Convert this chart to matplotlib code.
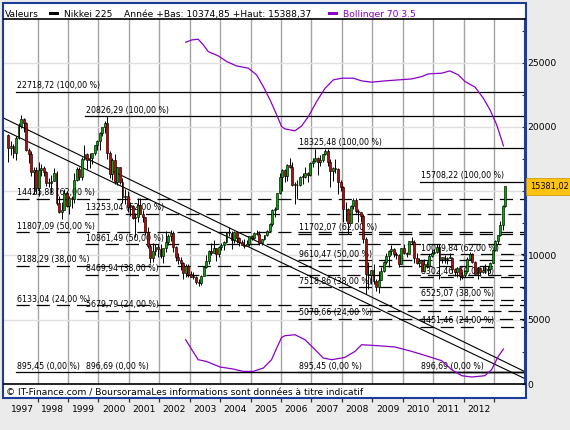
import numpy as np
import pandas as pd
import matplotlib
matplotlib.use("Agg")
import matplotlib.pyplot as plt
from matplotlib.patches import Rectangle

plt.rcParams['font.family'] = ['DejaVu Sans']
plt.rcParams['lines.scale_dashes'] = False

# Nikkei 225, bougies mensuelles Jan 1997 .. Mai 2013
opens = [
    19361, 18330, 18557, 18003, 19151, 20069, 20605, 20331, 18229, 17888, 16459, 16631,  # 1997
    15259, 16628, 16832, 16527, 15641, 15671, 15830, 16379, 14108, 13406, 13565, 14883,  # 1998
    13842, 14499, 14367, 15837, 16701, 16112, 17530, 17862, 17437, 17605, 17942, 18558,  # 1999
    18934, 19540, 19960, 20337, 17974, 16332, 17411, 15727, 16861, 15747, 14540, 14649,  # 2000
    13786, 13843, 12884, 12999, 13934, 13262, 12969, 11861, 10713, 9775, 10366, 10697,   # 2001
    10543, 9998, 10588, 11025, 11493, 11764, 10622, 9877, 9619, 9383, 8640, 9216,        # 2002
    8579, 8340, 8363, 7973, 7831, 8425, 9083, 9563, 10344, 10219, 10560, 10101,          # 2003
    10677, 10784, 11042, 11715, 11762, 11236, 11858, 11326, 11082, 10824, 10771, 10899,  # 2004
    11489, 11388, 11741, 11669, 11009, 11277, 11584, 11900, 12414, 13574, 13607, 14872,  # 2005
    16111, 16650, 16205, 17060, 16907, 15467, 15505, 15457, 16141, 16128, 16399, 16274,  # 2006
    17226, 17383, 17604, 17288, 17400, 17876, 18138, 17249, 16569, 16786, 16738, 15681,  # 2007
    15308, 13592, 13604, 12526, 13850, 14339, 13481, 13377, 13073, 11260, 8577, 8512,    # 2008
    8860, 7994, 7568, 8110, 8828, 9523, 9958, 10357, 10493, 10133, 10035, 9346,          # 2009
    10546, 10198, 10126, 11090, 11057, 9769, 9383, 9537, 8824, 9369, 9202, 9937,         # 2010
    10229, 10238, 10624, 9755, 9850, 9694, 9816, 9833, 8955, 8700, 8988, 8435,           # 2011
    8455, 8803, 9723, 10084, 9521, 8543, 9007, 8695, 8840, 8870, 8928, 9446,             # 2012
    10395, 11139, 11559, 12398, 13861,                                                   # 2013
]
highs = [
    19450, 18900, 18700, 19300, 20300, 20910, 20700, 20350, 18400, 18100, 16900, 16900,
    17300, 17100, 17000, 16600, 16000, 16300, 16800, 16600, 14600, 14200, 15200, 15000,
    14600, 14600, 16400, 16900, 16900, 17700, 18600, 18000, 18000, 18000, 18600, 19000,
    19600, 20000, 20500, 20833, 18100, 17600, 17900, 16900, 16900, 16000, 15200, 15000,
    14200, 13900, 13300, 14500, 14500, 13500, 13000, 12200, 10900, 11000, 10900, 10900,
    10900, 10600, 11900, 11700, 12000, 11900, 10700, 10200, 9900, 9500, 9300, 9300,
    8800, 8700, 8400, 8200, 8500, 9200, 10000, 10400, 11000, 11200, 10600, 10700,
    11000, 11100, 11800, 12200, 11900, 11900, 11900, 11400, 11200, 11300, 11200, 11500,
    11600, 11800, 12000, 11900, 11300, 11600, 11950, 12500, 13600, 13800, 14900, 16400,
    16700, 16700, 17100, 17600, 17300, 15700, 15900, 16200, 16400, 16900, 16500, 17300,
    17600, 18300, 17700, 17800, 17900, 18300, 18300, 17500, 16900, 17500, 16800, 15900,
    15400, 14200, 13700, 13900, 14500, 14500, 13600, 13400, 13200, 11400, 9500, 8900,
    9300, 8200, 8800, 9100, 9600, 10200, 10400, 10800, 10600, 10300, 10100, 10600,
    10900, 10300, 11100, 11400, 11200, 10200, 9800, 9600, 9700, 9600, 10100, 10400,
    10500, 10900, 10900, 9900, 10000, 9900, 10200, 9900, 9000, 9100, 9000, 8700,
    8900, 9900, 10300, 10200, 9600, 9100, 9100, 9200, 9300, 9200, 9500, 10400,
    11200, 11600, 12700, 13900, 15388,
]
lows = [
    17300, 17800, 17600, 17400, 19100, 19900, 19600, 18100, 17200, 16200, 14800, 14800,
    14600, 16200, 16200, 15400, 15300, 14900, 15800, 13900, 13300, 12800, 13600, 13800,
    13200, 13700, 14100, 15800, 15900, 15900, 17400, 16700, 16800, 17100, 17800, 18200,
    18200, 19300, 19500, 17500, 16000, 15900, 15600, 15500, 15600, 14100, 14000, 13400,
    13100, 12800, 11400, 12600, 13200, 12600, 11600, 10600, 9380, 9500, 10000, 9900,
    9800, 9400, 10300, 10800, 11100, 10300, 9600, 9300, 8900, 8200, 8300, 8300,
    8300, 8200, 7800, 7600, 7700, 8400, 9000, 9300, 10000, 10200, 9600, 9900,
    10400, 10400, 11000, 11500, 10500, 11000, 11000, 10700, 10800, 10600, 10700, 10700,
    11200, 11300, 11600, 10800, 10800, 11200, 11500, 11800, 12300, 13000, 13600, 14800,
    15000, 15700, 15800, 16800, 15400, 14000, 14400, 15400, 15600, 16000, 15700, 16200,
    16900, 17300, 16300, 17000, 17300, 17800, 17000, 15300, 15800, 16400, 14800, 15000,
    12600, 12700, 11700, 12500, 13600, 13300, 12600, 12600, 11000, 6990, 7400, 7800,
    7800, 7200, 7050, 8100, 8700, 9300, 9100, 10000, 9900, 9700, 9100, 9300,
    10100, 9900, 10100, 10900, 9400, 9300, 9100, 8800, 8800, 9000, 9100, 9900,
    10100, 10200, 8200, 9400, 9400, 9300, 9800, 8600, 8400, 8300, 8100, 8200,
    8300, 8800, 9700, 9400, 8500, 8200, 8400, 8600, 8600, 8500, 8600, 9400,
    10375, 10900, 11500, 12000, 13800,
]
closes = [
    18330, 18557, 18003, 19151, 20069, 20605, 20331, 18229, 17888, 16459, 16631, 15259,
    16628, 16832, 16527, 15641, 15671, 15830, 16379, 14108, 13406, 13565, 14883, 13842,
    14499, 14367, 15837, 16701, 16112, 17530, 17862, 17437, 17605, 17942, 18558, 18934,
    19540, 19960, 20337, 17974, 16332, 17411, 15727, 16861, 15747, 14540, 14649, 13786,
    13843, 12884, 12999, 13934, 13262, 12969, 11861, 10713, 9775, 10366, 10697, 10543,
    9998, 10588, 11025, 11493, 11764, 10622, 9877, 9619, 9383, 8640, 9216, 8579,
    8340, 8363, 7973, 7831, 8425, 9083, 9563, 10344, 10219, 10560, 10101, 10677,
    10784, 11042, 11715, 11762, 11236, 11858, 11326, 11082, 10824, 10771, 10899, 11489,
    11388, 11741, 11669, 11009, 11277, 11584, 11900, 12414, 13574, 13607, 14872, 16111,
    16650, 16205, 17060, 16907, 15467, 15505, 15457, 16141, 16128, 16399, 16274, 17226,
    17383, 17604, 17288, 17400, 17876, 18138, 17249, 16569, 16786, 16738, 15681, 15308,
    13592, 13604, 12526, 13850, 14339, 13481, 13377, 13073, 11260, 8577, 8512, 8860,
    7994, 7568, 8110, 8828, 9523, 9958, 10357, 10493, 10133, 10035, 9346, 10546,
    10198, 10126, 11090, 11057, 9769, 9383, 9537, 8824, 9369, 9202, 9937, 10229,
    10238, 10624, 9755, 9850, 9694, 9816, 9833, 8955, 8700, 8988, 8435, 8455,
    8803, 9723, 10084, 9521, 8543, 9007, 8695, 8840, 8870, 8928, 9446, 10395,
    11139, 11559, 12398, 13861, 15381.02,
]

# Bollinger 70 3.5
upper_x = [2002.87, 2003.07, 2003.28, 2003.45, 2003.61, 2003.94, 2004.22, 2004.54, 2004.93,
           2005.20, 2005.42, 2005.64, 2005.86, 2006.02, 2006.13, 2006.46, 2006.68, 2006.90,
           2007.17, 2007.45, 2007.72, 2008.00, 2008.38, 2008.65, 2008.98, 2009.42, 2009.86,
           2010.30, 2010.62, 2010.84, 2011.28, 2011.55, 2011.83, 2012.05, 2012.38, 2012.65,
           2012.87, 2013.09, 2013.25, 2013.31]
upper_y = [26594, 26773, 26827, 26384, 25863, 25529, 25085, 24751, 24572,
           24051, 23141, 22107, 20941, 20031, 19852, 19697, 20085, 20809,
           21975, 23017, 23662, 23795, 23795, 23585, 23484, 23585, 23662,
           23740, 23919, 24129, 24183, 24362, 24051, 23530, 23095, 22239,
           21329, 20163, 18997, 18530]
lower_x = [2002.87, 2003.07, 2003.28, 2003.55, 2004.00, 2004.43, 2004.76, 2005.09, 2005.42,
           2005.69, 2005.86, 2006.02, 2006.13, 2006.46, 2006.79, 2007.12, 2007.39, 2007.67,
           2008.10, 2008.43, 2008.65, 2009.20, 2009.75, 2010.30, 2010.84, 2011.28, 2011.61,
           2011.94, 2012.27, 2012.70, 2012.92, 2013.14, 2013.31]
lower_y = [3445, 2667, 1890, 1757, 1322, 1166, 980, 980, 1244,
           1890, 2799, 3624, 3756, 3834, 3445, 2667, 2022, 1890,
           2068, 2535, 3056, 2978, 2877, 2535, 2146, 1812, 1112,
           645, 544, 645, 1112, 2146, 2722]

# droites de tendance
trend_x = [1996.87, 2014.02]
trend_upper = [20708, 956]
trend_lower = [19775, 412]

# retracements de Fibonacci
fib_start = [1997.29, 1999.56, 2006.56, 2010.57]
fib_levels = [
    [22718.72, 14425.88, 11807.09, 9188.29, 6133.04, 895.45],
    [20826.29, 13253.04, 10861.49, 8469.94, 5679.79, 896.69],
    [18325.48, 11702.07, 9610.47, 7518.86, 5078.66, 895.45],
    [15708.22, 10079.84, 8302.46, 6525.07, 4451.46, 896.69],
]
fib_pct = ["100,00", "62,00", "50,00", "38,00", "24,00", "0,00"]

years = list(range(1997, 2013))
grid_years = list(range(1998, 2014))
y_ticks = [0, 5000, 10000, 15000, 20000, 25000]
y_labels = ["0", "5000", "10000", "", "20000", "25000"]  # 15000 caché par le dernier cours

W, H = 570, 430
def fx(px):
    return px / W
def fy(py):
    return 1 - py / H

fig = plt.figure(figsize=(W / 100, H / 100), dpi=100)
fig.patch.set_facecolor('#ebebeb')
fig.patches.append(Rectangle((fx(3), fy(398)), 523 / W, 395 / H, transform=fig.transFigure,
                             facecolor='white', edgecolor='#1c3c9c', lw=1.5, zorder=-1))

ax = fig.add_axes([fx(4), fy(384), 521 / W, 365 / H])
ax.set_facecolor('none')
ax.set_xlim(1996.898, 2014.019)
ax.set_ylim(0, 28400)

# grille
ax.set_xticks(grid_years)
ax.tick_params(axis='x', length=0, labelbottom=False)
ax.grid(axis='x', color='#a4a4a4', lw=1)
ax.yaxis.tick_right()
ax.set_yticks(y_ticks)
ax.set_yticklabels(y_labels)
ax.set_yticks(range(2500, 28000, 5000), minor=True)
ax.tick_params(axis='y', which='both', direction='in', length=2.5, width=0.8, color='#333333',
               labelsize=6.6, pad=2)
ax.grid(axis='y', which='major', color='#e0e0e0', lw=1)
ax.set_axisbelow(True)
ax.spines['left'].set_visible(False)
ax.spines['right'].set_color('#1c3c9c')
ax.spines['right'].set_linewidth(1.5)
ax.spines['top'].set_linewidth(1.2)
ax.spines['bottom'].set_linewidth(1.2)

# Fibonacci
for start, levels in zip(fib_start, fib_levels):
    for i, (v, p) in enumerate(zip(levels, fib_pct)):
        solid = i == 0 or i == len(levels) - 1
        ax.plot([start, 2014.1], [v, v], color='black', lw=0.9,
                ls='-' if solid else (0, (9.5, 5)), zorder=2)
        lab = f"{v:.2f}".replace('.', ',') + f" ({p} %)"
        ax.annotate(lab, (start, v), xytext=(1, 1.2), textcoords='offset points',
                    fontsize=5.7, ha='left', va='bottom', zorder=2.5)

# tendances
ax.plot(trend_x, trend_upper, color='black', lw=0.8, zorder=2)
ax.plot(trend_x, trend_lower, color='black', lw=0.8, zorder=2)

# bougies
months = pd.period_range('1997-01', periods=len(closes), freq='M')
xs = np.array([m.year + (m.month - 0.5) / 12 for m in months])
o = np.array(opens, dtype=float)
c = np.array(closes, dtype=float)
ax.vlines(xs, lows, highs, color='black', lw=0.7, zorder=3)
up = c >= o
body = np.maximum(np.abs(c - o), 60)
ax.bar(xs, body, bottom=np.minimum(o, c), width=0.062,
       color=np.where(up, '#00b000', '#d00000'), edgecolor='black', lw=0.45, zorder=3.1)

# Bollinger
ax.plot(upper_x, upper_y, color='#8a00c8', lw=0.9, zorder=4)
ax.plot(lower_x, lower_y, color='#8a00c8', lw=0.9, zorder=4)

# dernier cours
ax.annotate(f"{closes[-1]:.2f}".replace('.', ','), (1, closes[-1]),
            xycoords=('axes fraction', 'data'), xytext=(3.4, 0), textcoords='offset points',
            fontsize=5.9, ha='left', va='center', annotation_clip=False, zorder=10,
            bbox=dict(boxstyle='square,pad=0.5', fc='#ffc20e', ec='#c89000', lw=0.5))

# axe des années
ax2 = fig.add_axes([fx(4), fy(398), 521 / W, 0.5 / H])
ax2.set_xlim(ax.get_xlim())
ax2.set_yticks([])
for s in ax2.spines.values():
    s.set_visible(False)
ax2.patch.set_visible(False)
ax2.set_xticks(grid_years)
ax2.set_xticklabels([])
ax2.tick_params(axis='x', which='major', direction='out', length=2.6, width=0.9, color='#333333')
ax2.set_xticks([y + 0.5 for y in years], minor=True)
ax2.set_xticklabels([str(y) for y in years], minor=True)
ax2.tick_params(axis='x', which='minor', length=0, labelsize=6.6, pad=5.4)

# en-tête
fig.text(fx(5), fy(17), "Valeurs", fontsize=6.6, va='baseline')
fig.patches.append(Rectangle((fx(49), fy(15)), 10 / W, 3 / H, transform=fig.transFigure,
                             facecolor='black', edgecolor='none'))
fig.text(fx(64), fy(17), "Nikkei 225", fontsize=6.6, va='baseline')
fig.text(fx(124), fy(17), "Année +Bas: 10374,85 +Haut: 15388,37", fontsize=6.6, va='baseline')
fig.patches.append(Rectangle((fx(328), fy(15)), 10 / W, 3 / H, transform=fig.transFigure,
                             facecolor='#8a00c8', edgecolor='none'))
fig.text(fx(343), fy(17), "Bollinger 70 3.5", fontsize=6.6, va='baseline', color='#8a00c8')

# pied
fig.text(fx(6), fy(395), "© IT-Finance.com / BoursoramaLes informations sont données à titre indicatif",
         fontsize=6.6, va='baseline')

fig.savefig('out.png', dpi=100, facecolor=fig.get_facecolor())
